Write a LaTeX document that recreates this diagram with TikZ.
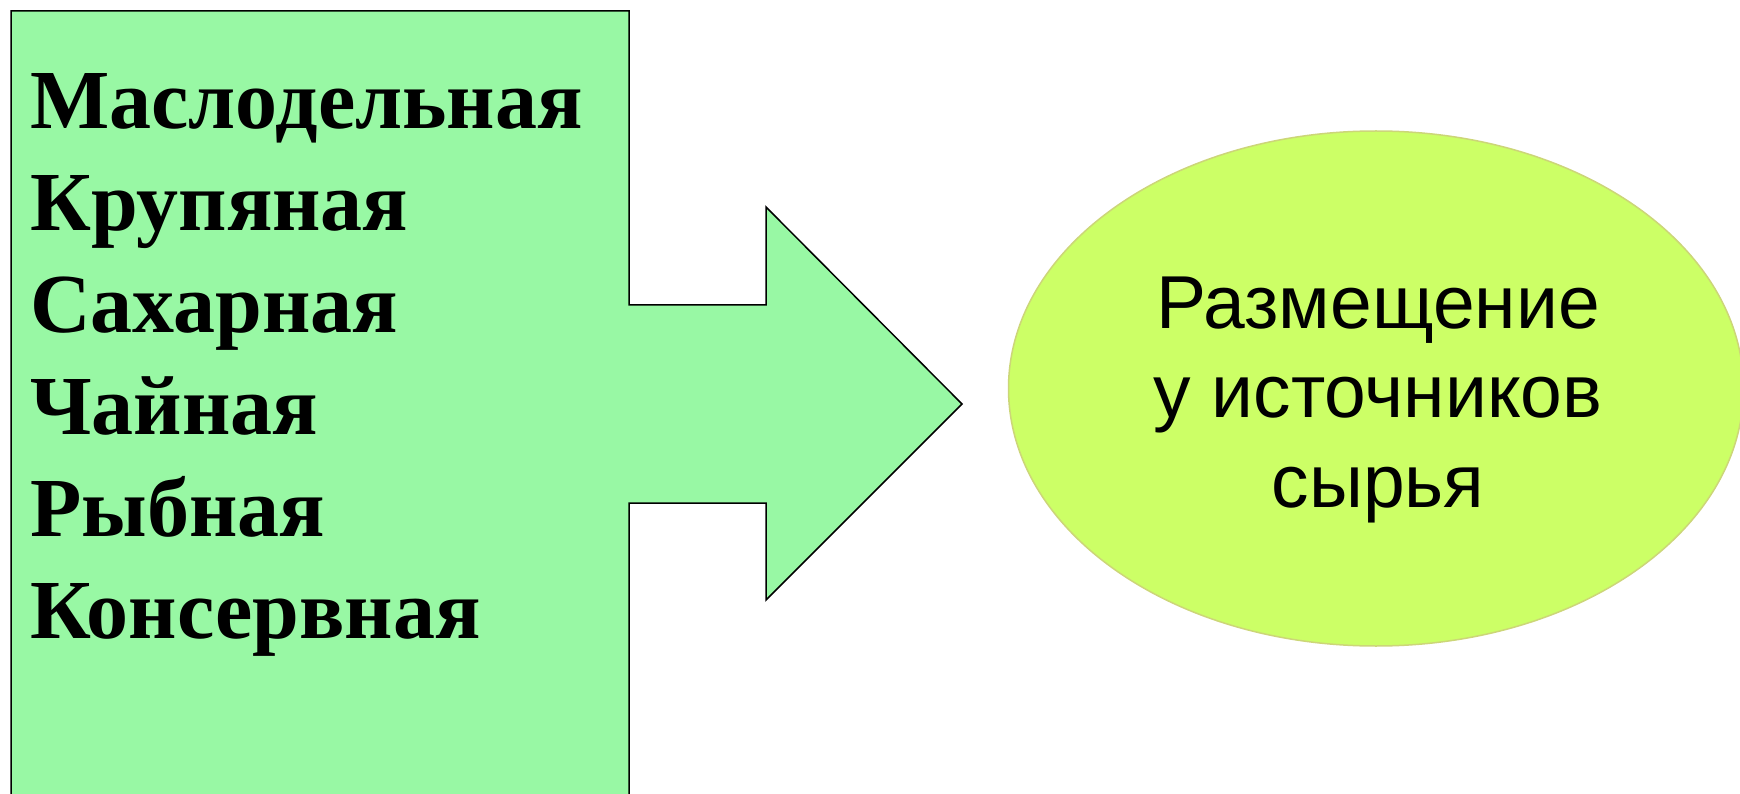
\documentclass[tikz,border=0pt]{standalone}
\usepackage{fontspec}
\setmainfont{Liberation Serif}
\newfontfamily\arialf{Liberation Sans}
\usetikzlibrary{shapes.geometric}
\definecolor{boxgreen}{RGB}{152,248,164}
\definecolor{ellfill}{RGB}{204,255,102}
\definecolor{elldraw}{RGB}{204,214,120}
\tikzset{
  listline/.style={anchor=base west, inner sep=0pt, font=\fontsize{84}{102}\selectfont\bfseries},
  elltext/.style={anchor=base, inner sep=0pt, font=\arialf\fontsize{75}{89}\selectfont},
}
\begin{document}
\begin{tikzpicture}[x=1pt,y=-1pt]
\useasboundingbox (0,0) rectangle (1740,794);
\clip (0,0) rectangle (1740,794);
\fill[white] (0,0) rectangle (1740,794);
\draw[fill=boxgreen, line width=1.5pt, line join=miter]
  (11,810) -- (11,11) -- (629,11) -- (629,305) -- (766,305) -- (766,207)
  -- (962,404) -- (766,600) -- (766,503) -- (629,503) -- (629,810);
\foreach \t [count=\i] in {Маслодельная,Крупяная,Сахарная,Чайная,Рыбная,Консервная}
  \node[listline] (l\i) at (30,{128.7+102*(\i-1)}) {\t};
\node[ellipse, draw=elldraw, fill=ellfill, line width=1.5pt, minimum width=735pt, minimum height=515pt, inner sep=0pt] (ell) at (1376,388.5) {};
\node[elltext] (e1) at (1378,328.5) {Размещение};
\node[elltext] (e2) at (1378,417.5) {у источников};
\node[elltext] (e3) at (1378,507) {сырья};
\end{tikzpicture}
\end{document}
